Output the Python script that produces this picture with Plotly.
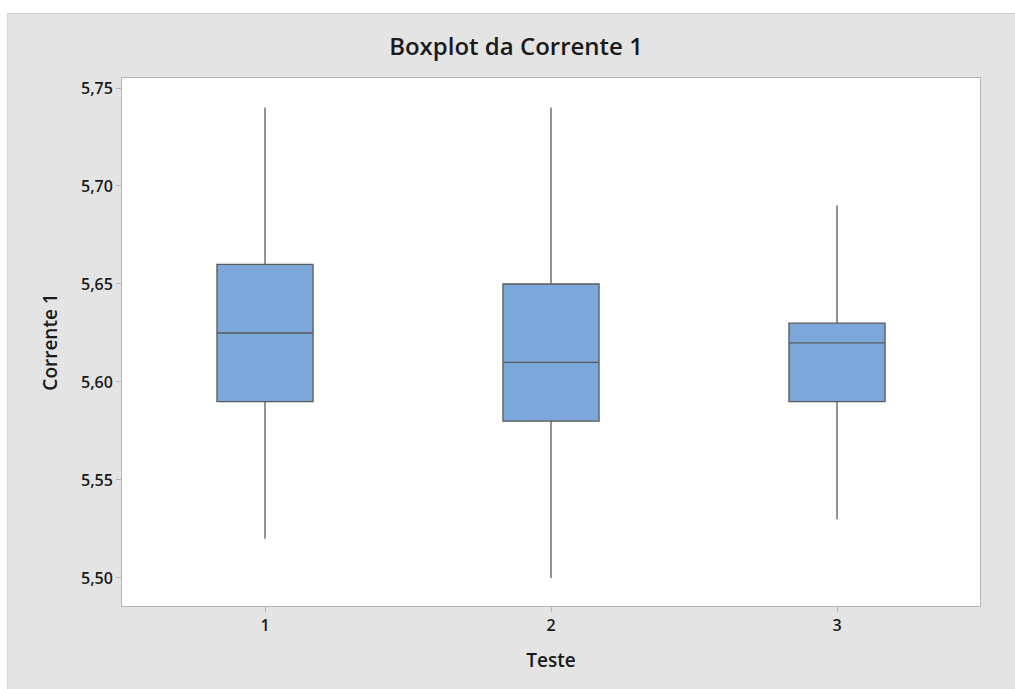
import plotly.graph_objects as go

# Summary statistics of "Corrente 1" for each test
testes = [1, 2, 3]
minimo = [5.52, 5.50, 5.53]
q1 = [5.59, 5.58, 5.59]
mediana = [5.625, 5.61, 5.62]
q3 = [5.66, 5.65, 5.63]
maximo = [5.74, 5.74, 5.69]

y_ticks = [5.50, 5.55, 5.60, 5.65, 5.70, 5.75]

W, H = 1015, 689
ML, MR, MT, MB = 122, 35, 78, 83
PW, PH = W - ML - MR, H - MT - MB

fig = go.Figure()
for i, t in enumerate(testes):
    fig.add_trace(go.Box(
        x=[t],
        q1=[q1[i]], median=[mediana[i]], q3=[q3[i]],
        lowerfence=[minimo[i]], upperfence=[maximo[i]],
        width=0.336,
        whiskerwidth=0,
        fillcolor="#7ba7da",
        line=dict(color="#5a5a5a", width=1.3),
        boxpoints=False,
        showlegend=False,
        hoverinfo="skip",
    ))

def px_x(px):
    return (px - ML) / PW

def px_y(py):
    return 1 - (py - MT) / PH

# grey panel with a white strip above and to the left
fig.add_shape(type="rect", xref="paper", yref="paper",
              x0=px_x(0), x1=px_x(W), y0=px_y(0), y1=px_y(13),
              fillcolor="white", line=dict(width=0), layer="below")
fig.add_shape(type="rect", xref="paper", yref="paper",
              x0=px_x(0), x1=px_x(7), y0=px_y(0), y1=px_y(H),
              fillcolor="white", line=dict(width=0), layer="below")
fig.add_shape(type="line", xref="paper", yref="paper",
              x0=px_x(7), x1=px_x(W), y0=px_y(13.5), y1=px_y(13.5),
              line=dict(color="#d4d4d4", width=1), layer="below")
fig.add_shape(type="line", xref="paper", yref="paper",
              x0=px_x(7.5), x1=px_x(7.5), y0=px_y(13), y1=px_y(H),
              line=dict(color="#d4d4d4", width=1), layer="below")

font = "Open Sans, Noto Sans, sans-serif"
fig.update_layout(
    width=W, height=H,
    margin=dict(l=ML, r=MR, t=MT, b=MB),
    paper_bgcolor="#e4e4e4",
    plot_bgcolor="white",
    separators=",.",
    font=dict(family=font, color="#1a1a1a", size=14),
    title=dict(text="Boxplot da Corrente 1", x=516 / W, xanchor="center",
               y=1 - 47 / H, yanchor="middle",
               font=dict(family=font, size=24, color="#1a1a1a", weight=600)),
    xaxis=dict(
        range=[0.5, 3.5], tickmode="array", tickvals=testes,
        ticktext=[str(t) for t in testes],
        showgrid=False, zeroline=False,
        showline=True, linecolor="#b4b4b4", linewidth=1, mirror=True,
        ticks="outside", ticklen=5, tickcolor="#b4b4b4",
        tickfont=dict(size=16, weight=600, color="#1a1a1a"),
        title=dict(text="Teste", font=dict(size=19, weight=600), standoff=18),
    ),
    yaxis=dict(
        range=[5.4857, 5.7551], tickmode="array", tickvals=y_ticks,
        tickformat=".2f",
        showgrid=False, zeroline=False,
        showline=True, linecolor="#b4b4b4", linewidth=1, mirror=True,
        ticks="outside", ticklen=5, tickcolor="#b4b4b4",
        tickfont=dict(size=16, weight=600, color="#1a1a1a"),
        title=dict(text="Corrente 1", font=dict(size=19, weight=600), standoff=18),
    ),
)

fig.write_html("out.html")
